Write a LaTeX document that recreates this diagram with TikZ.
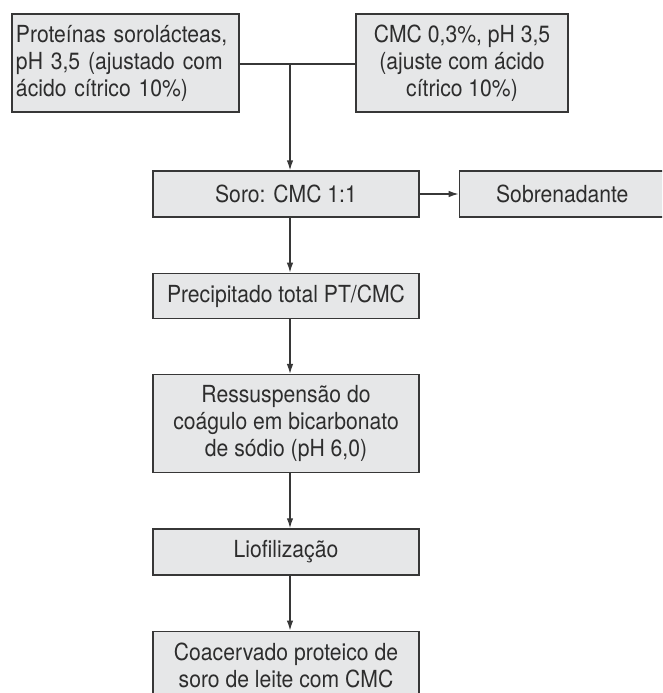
\documentclass[tikz,border=0pt]{standalone}
\usepackage{fontspec}
\setmainfont[FakeStretch=0.9]{TeX Gyre Heros}
\usetikzlibrary{arrows.meta}
\usetikzlibrary{positioning}
\definecolor{boxgray}{RGB}{230,231,232}
\definecolor{linegray}{RGB}{55,55,55}
\definecolor{textgray}{RGB}{45,45,45}

\begin{document}
\begin{tikzpicture}[x=1pt, y=1pt, node distance=55pt,
    stepnode/.style={rectangle, draw=linegray, fill=boxgray, line width=1.3pt, text=textgray,
        font=\fontsize{23.5}{27}\selectfont, align=center, inner sep=0pt, minimum width=266pt},
    flow/.style={line width=1.3pt, draw=linegray, -{Latex[length=10pt,width=6.5pt]}}]
            \useasboundingbox (0,0) rectangle (662,-693);
            \clip (0,0) rectangle (662,-693);
            %Nodes
            \node[stepnode, minimum width=227pt, minimum height=98pt, align=left, text width=219pt, inner xsep=4pt]   (whey)   at (125.5,-63)   {Proteínas sorolácteas,\\pH 3,5 (ajustado com\\ácido cítrico 10\%)};
            \node[stepnode, minimum width=212pt, minimum height=98pt]   (cmc)   at (462,-63)   {CMC 0,3\%, pH 3,5\\(ajuste com ácido\\cítrico 10\%)};
            \node[stepnode, minimum height=46pt]   (mix)   at (286,-194)   {Soro: CMC 1:1};
            \node[stepnode, minimum width=206pt, minimum height=46pt]   (super)  [right=39pt of mix]   {Sobrenadante};
            \node[stepnode, minimum height=45pt]   (precip)  [below=of mix]   {Precipitado total PT/CMC};
            \node[stepnode, minimum height=98pt]   (resusp)  [below=of precip]   {Ressuspensão do\\coágulo em bicarbonato\\de sódio (pH 6,0)};
            \node[stepnode, minimum height=46pt]   (freeze)  [below=of resusp]   {Liofilização};
            \node[stepnode, minimum height=68pt]   (coac)  [below=of freeze]   {Coacervado proteico de\\soro de leite com CMC};
            %Connectors
            \coordinate (join) at (290,-64);
            \draw[line width=1.3pt, draw=linegray] (whey.east |- join) -- (cmc.west |- join);
            \draw[flow] (join) -- (join |- mix.north);
            \draw[flow] (mix.east) -- (super.west);
            \draw[flow] (join |- mix.south) -- (join |- precip.north);
            \draw[flow] (join |- precip.south) -- (join |- resusp.north);
            \draw[flow] (join |- resusp.south) -- (join |- freeze.north);
            \draw[flow] (join |- freeze.south) -- (join |- coac.north);
        \end{tikzpicture}
\end{document}
